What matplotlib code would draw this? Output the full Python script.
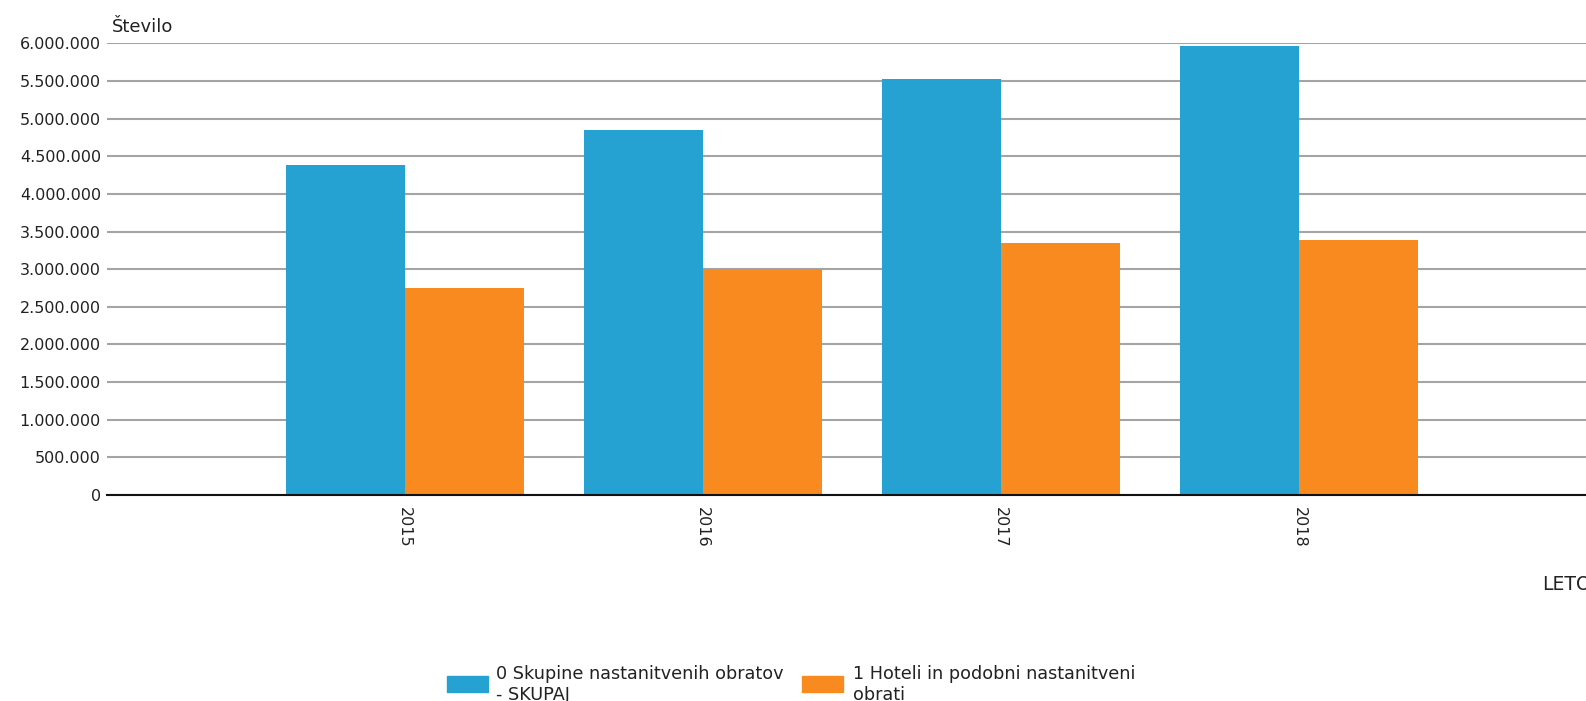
import matplotlib
matplotlib.use("Agg")
import matplotlib.pyplot as plt
from matplotlib.patches import Rectangle
from matplotlib.ticker import FuncFormatter

years = ["2015", "2016", "2017", "2018"]
skupaj = [4383000, 4848000, 5522000, 5964000]
hoteli = [2754000, 3006000, 3343000, 3387000]
series_labels = [["0 Skupine nastanitvenih obratov", "- SKUPAJ"],
                 ["1 Hoteli in podobni nastanitveni", "obrati"]]
colors = ["#26A2D2", "#F98A1F"]
yticks = list(range(0, 6000001, 500000))

plt.rcParams['font.family'] = ['DejaVu Sans']

W, H = 1586, 701
fig = plt.figure(figsize=(W / 100, H / 100), dpi=100)
left, right, top, bottom = 106.5, 1586, 43.3, 495
slot = 298.1
ax = fig.add_axes([left / W, (H - bottom) / H, (right - left) / W, (bottom - top) / H])

bw = 119 / slot
x = [i + 1 for i in range(len(years))]
ax.bar([xi - bw / 2 for xi in x], skupaj, width=bw, color=colors[0], zorder=3)
ax.bar([xi + bw / 2 for xi in x], hoteli, width=bw, color=colors[1], zorder=3)

ax.set_xlim(0, (right - left) / slot)
ax.set_ylim(0, 6000000)
ax.set_yticks(yticks)
ax.yaxis.set_major_formatter(FuncFormatter(lambda v, p: f"{int(v):,}".replace(",", ".")))
ax.set_xticks(x)
ax.set_xticklabels(years, rotation=-90, fontsize=11.5, color="#222222")
ax.tick_params(axis='x', length=0, pad=8.5)
ax.tick_params(axis='y', length=0, labelsize=11.5, labelcolor="#222222", pad=4)
ax.grid(axis='y', color="#a4a4a4", linewidth=1.5, zorder=0)
for s in ["top", "right", "left"]:
    ax.spines[s].set_visible(False)
ax.spines["bottom"].set_color("#111111")
ax.spines["bottom"].set_linewidth(1.5)
ax.spines["bottom"].set_zorder(4)

fig.text(111.7 / W, 1 - 31.7 / H, "Število", fontsize=13, color="#222222",
         va="baseline", ha="left")
fig.text(1541.7 / W, 1 - 590 / H, "LETO", fontsize=13.5, color="#222222",
         va="baseline", ha="left")

# legend
for px, tx, col, lab in [(447, 495.7, colors[0], series_labels[0]),
                         (802, 852.7, colors[1], series_labels[1])]:
    fig.patches.append(Rectangle((px / W, 1 - 692 / H), 40.5 / W, 16.5 / H,
                                 transform=fig.transFigure, color=col))
    for k, line in enumerate(lab):
        fig.text(tx / W, 1 - (679.3 + 21 * k) / H, line, fontsize=12.7,
                 color="#222222", va="baseline", ha="left")

fig.savefig("out.png", dpi=100)
